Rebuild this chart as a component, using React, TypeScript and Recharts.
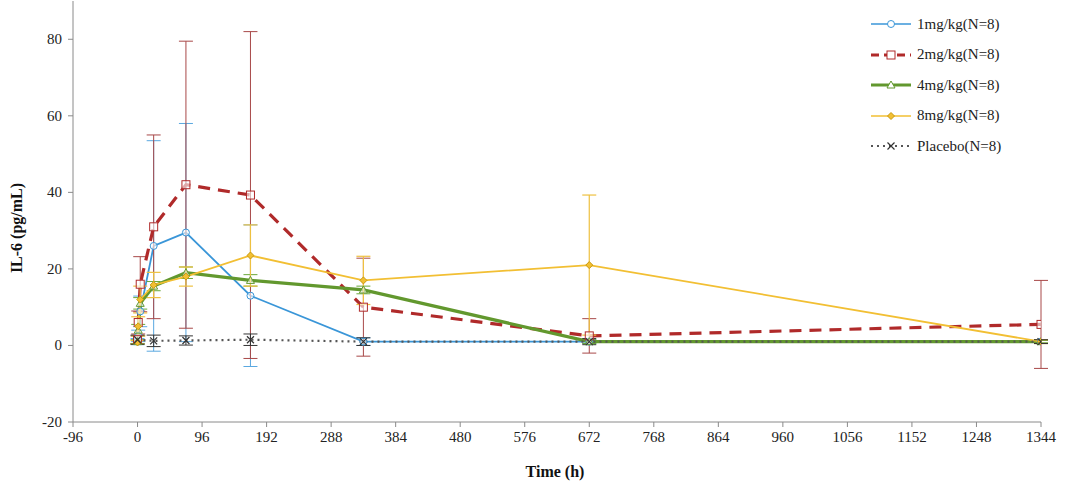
import React from "react";
import { LineChart, Line, XAxis, YAxis, ErrorBar } from "recharts";

const timesDose = [0, 1, 4, 24, 72, 168, 336, 672, 1344];
const timesPlacebo = [0, 24, 72, 168, 336, 672, 1344];

const mg1 = [1.0, 2.5, 8.9, 26, 29.5, 13, 1.0, 1.0, 1.0];
const mg1Sd = [0.8, 1.5, 4, 27.5, 28.5, 18.5, 1.0, 0.5, 0.5];
const mg2 = [1.5, 6, 16, 31, 42, 39.3, 10, 2.5, 5.5];
const mg2Sd = [1, 3, 7.2, 24, 37.5, 42.7, 12.8, 4.5, 11.5];
const mg4 = [1.0, 4, 11, 15.5, 19, 17, 14.5, 1.0, 1.0];
const mg4Sd = [0.5, 1.5, 1.5, 1.2, 1.5, 1.5, 1.0, 0.5, 0.3];
const mg8 = [0.8, 5, 12, 15.8, 18, 23.5, 17, 21, 1.0];
const mg8Sd = [0.5, 2.5, 3.5, 3.3, 2.5, 8, 6.3, 18.3, 0.5];
const placebo = [1.5, 1.2, 1.3, 1.5, 1.0, 1.0, 1.0];
const placeboSd = [1.2, 1.5, 1.2, 1.5, 1.0, 0.8, 0.5];

const xTicks = [-96, 0, 96, 192, 288, 384, 480, 576, 672, 768, 864, 960, 1056, 1152, 1248, 1344];
const yTicks = [-20, 0, 20, 40, 60, 80];

const seriesNames = ["1mg/kg(N=8)", "2mg/kg(N=8)", "4mg/kg(N=8)", "8mg/kg(N=8)", "Placebo(N=8)"];

const build = (times: number[], vals: number[], sds: number[]) =>
  times.map((t, i) => ({ t, v: vals[i], sd: sds[i] }));

const d1 = build(timesDose, mg1, mg1Sd);
const d2 = build(timesDose, mg2, mg2Sd);
const d4 = build(timesDose, mg4, mg4Sd);
const d8 = build(timesDose, mg8, mg8Sd);
const dp = build(timesPlacebo, placebo, placeboSd);

const FONT = "'Liberation Serif', 'DejaVu Serif', serif";
const C_BLUE = "#3a96d8";
const C_RED = "#b02a2a";
const C_GREEN = "#62982e";
const C_YELLOW = "#f2bf33";
const C_PLAC = "#555555";

const CircleDot = (p: any) =>
  p.cx == null ? null : (
    <circle key={p.key} cx={p.cx} cy={p.cy} r={3.5} fill="#fff" fillOpacity={0.6} stroke={C_BLUE} strokeWidth={1} />
  );
const SquareDot = (p: any) =>
  p.cx == null ? null : (
    <rect key={p.key} x={p.cx - 4} y={p.cy - 4} width={8} height={8} fill="#fff" fillOpacity={0.6} stroke={C_RED} strokeWidth={1} />
  );
const TriDot = (p: any) =>
  p.cx == null ? null : (
    <path key={p.key} d={`M${p.cx},${p.cy - 4}L${p.cx + 4},${p.cy + 3}L${p.cx - 4},${p.cy + 3}Z`} fill="#fff" fillOpacity={0.5} stroke={C_GREEN} strokeWidth={1} />
  );
const DiaDot = (p: any) =>
  p.cx == null ? null : (
    <path key={p.key} d={`M${p.cx},${p.cy - 3.5}L${p.cx + 3.5},${p.cy}L${p.cx},${p.cy + 3.5}L${p.cx - 3.5},${p.cy}Z`} fill={C_YELLOW} stroke="#c99a10" strokeWidth={1} />
  );
const XDot = (p: any) =>
  p.cx == null ? null : (
    <path key={p.key} d={`M${p.cx - 3.5},${p.cy - 3.5}L${p.cx + 3.5},${p.cy + 3.5}M${p.cx + 3.5},${p.cy - 3.5}L${p.cx - 3.5},${p.cy + 3.5}`} stroke="#333" strokeWidth={1.2} />
  );

const legendStyles = [
  { color: C_BLUE, width: 1.5, dash: undefined as string | undefined, marker: "circle" },
  { color: C_RED, width: 3, dash: "8 5", marker: "square" },
  { color: C_GREEN, width: 3, dash: undefined, marker: "tri" },
  { color: C_YELLOW, width: 1.5, dash: undefined, marker: "dia" },
  { color: C_PLAC, width: 2, dash: "2 4", marker: "x" },
];

const LegendMarker = ({ m }: { m: string }) => {
  const cx = 20, cy = 7;
  if (m === "circle") return <circle cx={cx} cy={cy} r={3.5} fill="#fff" stroke={C_BLUE} />;
  if (m === "square") return <rect x={cx - 4} y={cy - 4} width={8} height={8} fill="#fff" stroke={C_RED} />;
  if (m === "tri") return <path d={`M${cx},${cy - 4}L${cx + 4},${cy + 3}L${cx - 4},${cy + 3}Z`} fill="#fff" stroke={C_GREEN} />;
  if (m === "dia") return <path d={`M${cx},${cy - 3.5}L${cx + 3.5},${cy}L${cx},${cy + 3.5}L${cx - 3.5},${cy}Z`} fill={C_YELLOW} stroke="#c99a10" />;
  return <path d={`M${cx - 3.5},${cy - 3.5}L${cx + 3.5},${cy + 3.5}M${cx + 3.5},${cy - 3.5}L${cx - 3.5},${cy + 3.5}`} stroke="#333" strokeWidth={1.2} />;
};

const LegendBox = () => (
  <div style={{ position: "absolute", left: 871, top: 9, fontFamily: FONT, fontSize: 15, color: "#222" }}>
    {seriesNames.map((name, i) => {
      const s = legendStyles[i];
      return (
        <div key={name} style={{ display: "flex", alignItems: "center", height: 30.5 }}>
          <svg width={44} height={14} style={{ marginRight: 2 }}>
            <line x1={0} y1={7} x2={40} y2={7} stroke={s.color} strokeWidth={s.width} strokeDasharray={s.dash} />
            <LegendMarker m={s.marker} />
          </svg>
          <span>{name}</span>
        </div>
      );
    })}
  </div>
);

const YTitle = () => (
  <text x={22} y={228} transform="rotate(-90 22 228)" textAnchor="middle" fontFamily={FONT} fontSize={16} fontWeight="bold" fill="#111">
    IL-6 (pg/mL)
  </text>
);
const XTitle = () => (
  <text x={555} y={477} textAnchor="middle" fontFamily={FONT} fontSize={16} fontWeight="bold" fill="#111">
    Time (h)
  </text>
);

const XTick = (p: any) => (
  <text x={p.x} y={p.y + 12} textAnchor="middle" fontFamily={FONT} fontSize={15} fill="#222">
    {p.payload.value}
  </text>
);
const YTick = (p: any) => (
  <text x={p.x} y={p.y + 5} textAnchor="end" fontFamily={FONT} fontSize={15} fill="#222">
    {p.payload.value}
  </text>
);

export default function App() {
  return (
    <div style={{ position: "absolute", left: 0, top: 0, width: 1065, height: 496, background: "#fff", fontFamily: FONT }}>
      <LineChart width={1065} height={496} margin={{ top: 1, right: 24, bottom: 0, left: 0 }}>
        <XAxis
          dataKey="t"
          type="number"
          domain={[-96, 1344]}
          ticks={xTicks}
          allowDataOverflow
          height={74}
          stroke="#8a8a8a"
          tickSize={5}
          tick={XTick}
          tickMargin={3}
          label={<XTitle />}
        />
        <YAxis
          type="number"
          domain={[-20, 90]}
          ticks={yTicks}
          allowDataOverflow
          width={73}
          stroke="#8a8a8a"
          tickSize={5}
          tick={YTick}
          tickMargin={6}
          label={<YTitle />}
        />
        <Line data={d1} dataKey="v" name={seriesNames[0]} stroke={C_BLUE} strokeWidth={1.8} dot={CircleDot} activeDot={false} isAnimationActive={false}>
          <ErrorBar dataKey="sd" direction="y" width={7} stroke="#5aa8e0" strokeWidth={1} />
        </Line>
        <Line data={d2} dataKey="v" name={seriesNames[1]} stroke={C_RED} strokeWidth={3.2} strokeDasharray="12 8" dot={SquareDot} activeDot={false} isAnimationActive={false}>
          <ErrorBar dataKey="sd" direction="y" width={7} stroke="#a84848" strokeWidth={1} />
        </Line>
        <Line data={d4} dataKey="v" name={seriesNames[2]} stroke={C_GREEN} strokeWidth={3.2} dot={TriDot} activeDot={false} isAnimationActive={false}>
          <ErrorBar dataKey="sd" direction="y" width={7} stroke="#6aa83a" strokeWidth={1} />
        </Line>
        <Line data={d8} dataKey="v" name={seriesNames[3]} stroke={C_YELLOW} strokeWidth={1.8} dot={DiaDot} activeDot={false} isAnimationActive={false}>
          <ErrorBar dataKey="sd" direction="y" width={7} stroke="#eec040" strokeWidth={1.2} />
        </Line>
        <Line data={dp} dataKey="v" name={seriesNames[4]} stroke={C_PLAC} strokeWidth={2.2} strokeDasharray="2 4" dot={XDot} activeDot={false} isAnimationActive={false}>
          <ErrorBar dataKey="sd" direction="y" width={7} stroke="#333" strokeWidth={1} />
        </Line>
      </LineChart>
      <LegendBox />
    </div>
  );
}
